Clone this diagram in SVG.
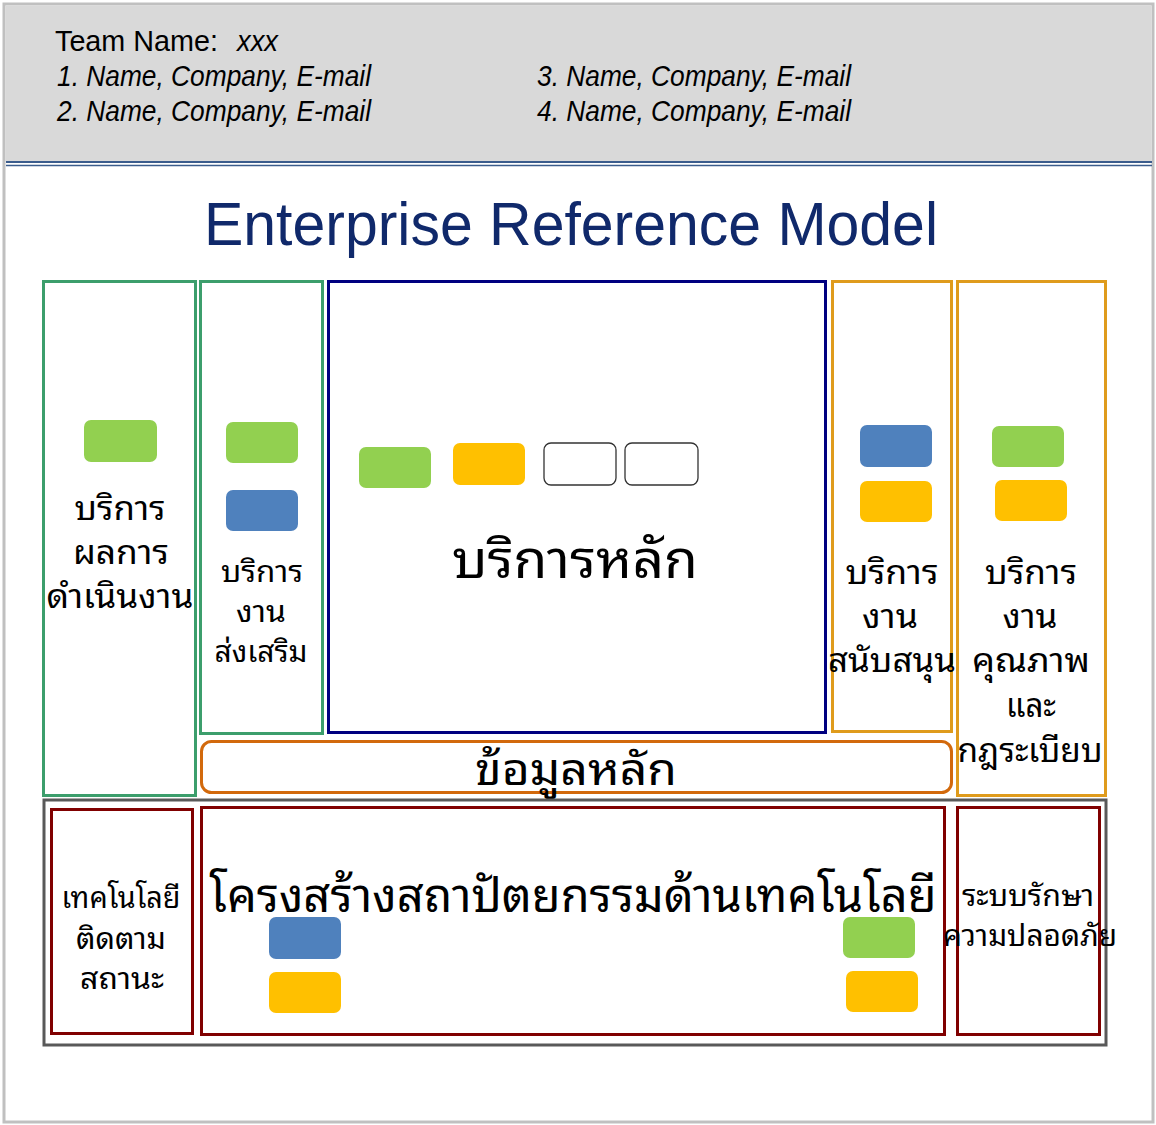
<svg xmlns="http://www.w3.org/2000/svg" width="1156" height="1125" viewBox="0 0 1156 1125">
<style>
.hd{font-family:"Liberation Sans","Arial",sans-serif;font-size:29px;fill:#000}
.it{font-style:italic}
.th{font-family:"Noto Sans Thai Looped","Loma","Garuda","Tahoma","Noto Sans Thai","DejaVu Sans","Noto Sans",sans-serif;fill:#000;text-anchor:middle}
.box{fill:none;stroke-width:3}
.g{fill:#92d050}.b{fill:#4f81bd}.y{fill:#ffc000}.w{fill:#fff;stroke:#333;stroke-width:1.3}
</style>
<rect x="0" y="0" width="1156" height="1125" fill="#fff"/>
<rect x="4" y="4" width="1149" height="1118" fill="#fff" stroke="#c0c0c0" stroke-width="3"/>
<rect x="5.5" y="5.5" width="1146" height="156" fill="#d9d9d9"/>
<line x1="6" y1="162" x2="1152" y2="162" stroke="#3b5c8c" stroke-width="2"/>
<line x1="6" y1="165.5" x2="1152" y2="165.5" stroke="#3b5c8c" stroke-width="1.5"/>
<g id="header">
<text class="hd" x="55" y="51" textLength="163" lengthAdjust="spacingAndGlyphs">Team Name:</text>
<text class="hd it" x="237" y="51" textLength="41" lengthAdjust="spacingAndGlyphs">xxx</text>
<text class="hd it" x="57" y="86" textLength="314" lengthAdjust="spacingAndGlyphs">1. Name, Company, E-mail</text>
<text class="hd it" x="57" y="121" textLength="314" lengthAdjust="spacingAndGlyphs">2. Name, Company, E-mail</text>
<text class="hd it" x="537" y="86" textLength="314" lengthAdjust="spacingAndGlyphs">3. Name, Company, E-mail</text>
<text class="hd it" x="537" y="121" textLength="314" lengthAdjust="spacingAndGlyphs">4. Name, Company, E-mail</text>
</g>
<text id="title" x="204" y="245" font-family="Liberation Sans, Arial, sans-serif" font-size="62" fill="#10296b" textLength="734" lengthAdjust="spacingAndGlyphs">Enterprise Reference Model</text>

<g id="perf">
<rect class="box" x="43.5" y="281.5" width="152" height="514" stroke="#3c9e6c"/>
<rect class="g" x="84" y="420" width="73" height="42" rx="7"/>
<text class="th" font-size="33"><tspan x="120" y="520" textLength="91" lengthAdjust="spacingAndGlyphs">บริการ</tspan><tspan x="121" y="564" textLength="96" lengthAdjust="spacingAndGlyphs">ผลการ</tspan><tspan x="120" y="608" textLength="147" lengthAdjust="spacingAndGlyphs">ดำเนินงาน</tspan></text>
</g>
<g id="promo">
<rect class="box" x="200.5" y="281.5" width="122" height="452" stroke="#3c9e6c"/>
<rect class="g" x="226" y="422" width="72" height="41" rx="7"/>
<rect class="b" x="226" y="490" width="72" height="41" rx="7"/>
<text class="th" font-size="29"><tspan x="262" y="582" textLength="82" lengthAdjust="spacingAndGlyphs">บริการ</tspan><tspan x="261" y="622" textLength="50" lengthAdjust="spacingAndGlyphs">งาน</tspan><tspan x="261" y="662" textLength="93" lengthAdjust="spacingAndGlyphs">ส่งเสริม</tspan></text>
</g>
<g id="core">
<rect class="box" x="328.5" y="281.5" width="497" height="451" stroke="#000080"/>
<rect class="g" x="359" y="447" width="72" height="41" rx="7"/>
<rect class="y" x="453" y="443" width="72" height="42" rx="7"/>
<rect class="w" x="544" y="443" width="72" height="42" rx="7"/>
<rect class="w" x="625" y="443" width="73" height="42" rx="7"/>
<text class="th" font-size="52" x="575" y="578" textLength="246" lengthAdjust="spacingAndGlyphs">บริการหลัก</text>
</g>
<g id="support">
<rect class="box" x="832.5" y="281.5" width="119" height="450" stroke="#df9b1c"/>
<rect class="b" x="860" y="425" width="72" height="42" rx="7"/>
<rect class="y" x="860" y="481" width="72" height="41" rx="7"/>
<text class="th" font-size="33"><tspan x="892" y="584" textLength="93" lengthAdjust="spacingAndGlyphs">บริการ</tspan><tspan x="890" y="628" textLength="56" lengthAdjust="spacingAndGlyphs">งาน</tspan><tspan x="892" y="672" textLength="128" lengthAdjust="spacingAndGlyphs">สนับสนุน</tspan></text>
</g>
<g id="quality">
<rect class="box" x="957.5" y="281.5" width="148" height="514" stroke="#df9b1c"/>
<rect class="g" x="992" y="426" width="72" height="41" rx="7"/>
<rect class="y" x="995" y="480" width="72" height="41" rx="7"/>
<text class="th" font-size="33"><tspan x="1031" y="584" textLength="92" lengthAdjust="spacingAndGlyphs">บริการ</tspan><tspan x="1030" y="628" textLength="55" lengthAdjust="spacingAndGlyphs">งาน</tspan><tspan x="1031" y="672" textLength="118" lengthAdjust="spacingAndGlyphs">คุณภาพ</tspan><tspan x="1031" y="717" textLength="50" lengthAdjust="spacingAndGlyphs">และ</tspan><tspan x="1030" y="762" textLength="145" lengthAdjust="spacingAndGlyphs">กฎระเบียบ</tspan></text>
</g>
<g id="data">
<rect class="box" x="201.5" y="741.5" width="750" height="51" rx="10" stroke="#d2690c"/>
<text class="th" font-size="44" x="576" y="785" textLength="202" lengthAdjust="spacingAndGlyphs">ข้อมูลหลัก</text>
</g>
<g id="techframe">
<rect class="box" x="44" y="800" width="1062" height="245" stroke="#595959" stroke-width="4"/>
</g>
<g id="monitor">
<rect class="box" x="51.5" y="809.5" width="141" height="224" stroke="#800000"/>
<text class="th" font-size="29"><tspan x="121" y="908" textLength="119" lengthAdjust="spacingAndGlyphs">เทคโนโลยี</tspan><tspan x="121" y="949" textLength="90" lengthAdjust="spacingAndGlyphs">ติดตาม</tspan><tspan x="122" y="989" textLength="84" lengthAdjust="spacingAndGlyphs">สถานะ</tspan></text>
</g>
<g id="infra">
<rect class="box" x="201.5" y="807.5" width="743" height="227" stroke="#800000"/>
<text class="th" font-size="48" x="573" y="912" textLength="727" lengthAdjust="spacingAndGlyphs">โครงสร้างสถาปัตยกรรมด้านเทคโนโลยี</text>
<rect class="b" x="269" y="917" width="72" height="42" rx="7"/>
<rect class="y" x="269" y="972" width="72" height="41" rx="7"/>
<rect class="g" x="843" y="917" width="72" height="41" rx="7"/>
<rect class="y" x="846" y="971" width="72" height="41" rx="7"/>
</g>
<g id="security">
<rect class="box" x="957.5" y="807.5" width="142" height="227" stroke="#800000"/>
<text class="th" font-size="29"><tspan x="1028" y="906" textLength="132" lengthAdjust="spacingAndGlyphs">ระบบรักษา</tspan><tspan x="1030" y="946" textLength="174" lengthAdjust="spacingAndGlyphs">ความปลอดภัย</tspan></text>
</g>
<g id="connectors"/>
</svg>
